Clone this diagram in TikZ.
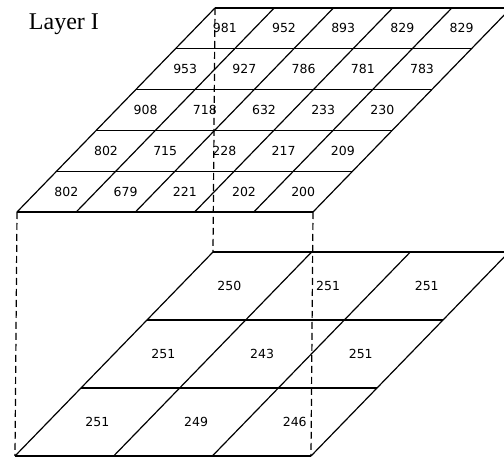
\documentclass[tikz,border=0pt]{standalone}
\usepackage{fontspec}
\setmainfont{Liberation Serif}
\newfontfamily\cellfont{DejaVu Sans}
\usetikzlibrary{calc}
\begin{document}
\begin{tikzpicture}[x=1pt, y=-1pt, line width=1.2pt,
                cell/.style={font=\cellfont\fontsize{12.5}{14}\selectfont, inner sep=0pt},
                hidden/.style={dash pattern=on 7pt off 4pt}]
                \useasboundingbox (0,0) rectangle (504,457);
                \clip (0,0) rectangle (504,457);
                \coordinate (tl) at (215,8);
                \coordinate (tr) at (511,8);
                \coordinate (fl) at (17,212);
                \coordinate (fr) at (313,212);
                \coordinate (bl) at (213,252);
                \coordinate (br) at (509,252);
                \coordinate (gl) at (15,456);
                \coordinate (gr) at (311,456);

                \node[anchor=base west, font=\fontsize{24}{28}\selectfont] (layer) at (25,30) {Layer I};

                \foreach \i in {0,...,5} {
                    \draw ($(tl)!\i/5!(fl)$) -- ($(tr)!\i/5!(fr)$);
                    \draw ($(tl)!\i/5!(tr)$) -- ($(fl)!\i/5!(fr)$);
                }
                \foreach \vals [count=\r] in {{981,952,893,829,829},{953,927,786,781,783},{908,718,632,233,230},{802,715,228,217,209},{802,679,221,202,200}} {
                    \foreach \v [count=\c] in \vals
                        \node[cell] (t-\r-\c) at ($(tl)!{(\r-0.5)/5}!(fl) + ({(\c-0.5)*59.2},0)$) {\v};
                }

                \foreach \i in {0,...,3} {
                    \draw ($(bl)!\i/3!(gl)$) -- ($(br)!\i/3!(gr)$);
                    \draw ($(bl)!\i/3!(br)$) -- ($(gl)!\i/3!(gr)$);
                }
                \foreach \vals [count=\r] in {{250,251,251},{251,243,251},{251,249,246}} {
                    \foreach \v [count=\c] in \vals
                        \node[cell] (b-\r-\c) at ($(bl)!{(\r-0.5)/3}!(gl) + ({(\c-0.5)*98.7},0)$) {\v};
                }

                \draw[hidden] (fl) -- (gl);
                \draw[hidden] (tl) -- (bl);
                \draw[hidden] (fr) -- (gr);
\end{tikzpicture}
\end{document}
